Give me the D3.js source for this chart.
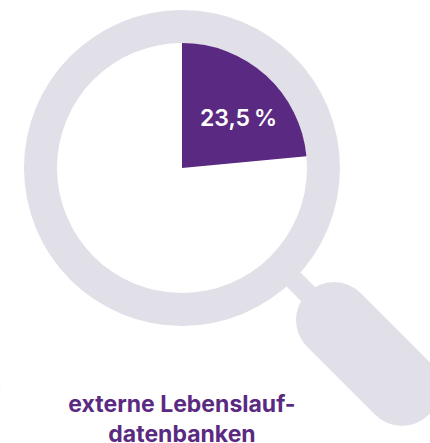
<!DOCTYPE html>
<html><head><meta charset="utf-8">
<script src="https://cdn.jsdelivr.net/npm/d3@7"></script>
<style>html,body{margin:0;padding:0;background:#fff}svg{display:block}</style>
</head><body><svg id="c" width="430" height="443"></svg>
<script>
const categories = ["externe Lebenslauf-", "datenbanken"];
const shareValues = [23.5];
const shareLabels = ["23,5\u2009%"];
const scale = d3.scaleLinear().domain([0, 100]).range([0, 2 * Math.PI]);

const svg = d3.select("#c");
const ringColor = "#e1e0e8", purple = "#5a2a82";
const cx = 182, cy = 168;
const g = svg.append("g").attr("transform", `translate(${cx},${cy})`);

g.append("path").attr("fill", ringColor).attr("d",
  d3.arc()({innerRadius: 125, outerRadius: 158, startAngle: 0, endAngle: 2 * Math.PI}));

svg.append("line").attr("x1", 290).attr("y1", 276).attr("x2", 312).attr("y2", 298)
  .attr("stroke", ringColor).attr("stroke-width", 20);
svg.append("line").attr("x1", 334).attr("y1", 320).attr("x2", 402).attr("y2", 388)
  .attr("stroke", ringColor).attr("stroke-width", 76).attr("stroke-linecap", "round");
svg.append("circle").attr("cx", -37).attr("cy", 387).attr("r", 37.2).attr("fill", ringColor);

g.selectAll("path.slice").data(shareValues).join("path").attr("class", "slice")
  .attr("fill", purple)
  .attr("d", d => d3.arc()({innerRadius: 0, outerRadius: 125, startAngle: 0, endAngle: scale(d)}));

svg.selectAll("text.val").data(shareLabels).join("text").attr("class", "val")
  .attr("x", 238.5).attr("y", 126).attr("text-anchor", "middle")
  .attr("font-family", "Inter").attr("font-weight", 600).attr("font-size", 23)
  .attr("fill", "#fff").text(d => d);

svg.selectAll("text.cat").data(categories).join("text").attr("class", "cat")
  .attr("x", 182).attr("y", (d, i) => 412 + i * 29.5).attr("text-anchor", "middle")
  .attr("font-family", "Inter").attr("font-weight", 700).attr("font-size", 23)
  .attr("fill", purple).text(d => d);
</script></body></html>
